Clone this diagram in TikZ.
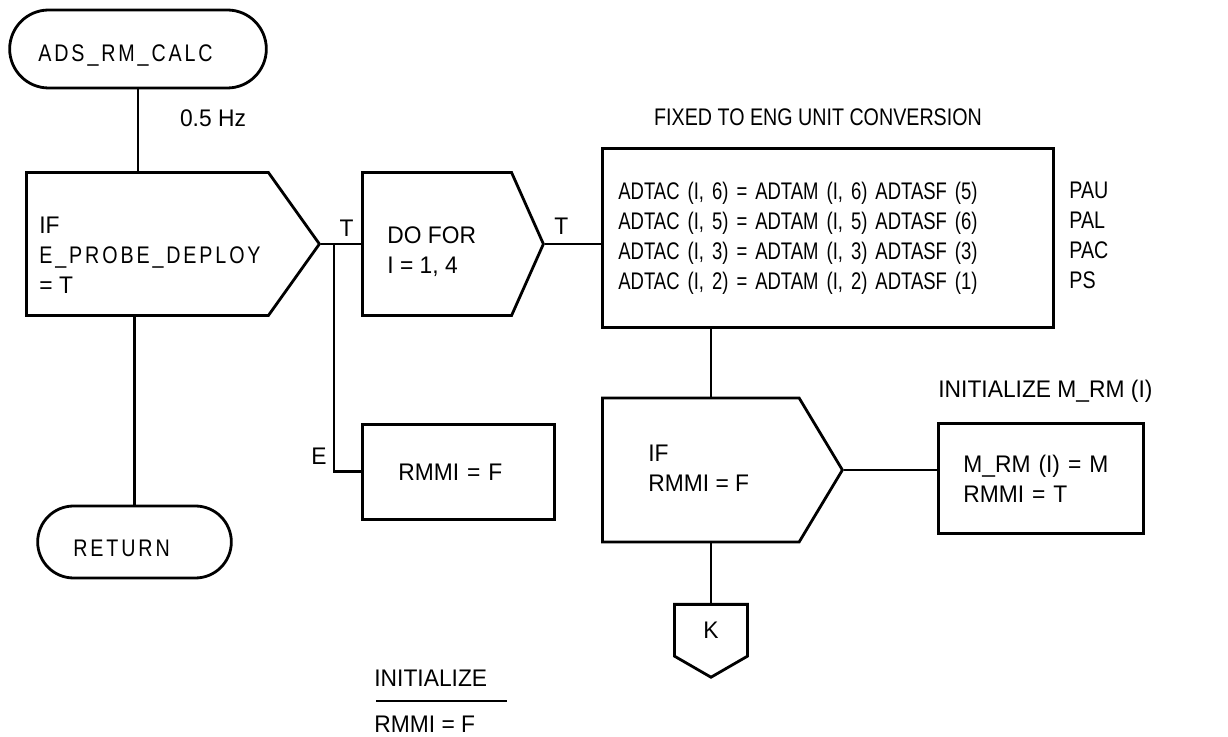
\documentclass[tikz,border=0pt]{standalone}
\usepackage{fontspec}
\setmainfont{Liberation Sans}[FakeStretch=0.95]
\newfontfamily\narrowfont{Liberation Sans}[FakeStretch=0.82]
\newfontfamily\eqfont{Liberation Sans}[FakeStretch=0.77,WordSpace=0.5]
\newfontfamily\spacedfont{Liberation Sans}[FakeStretch=0.82,LetterSpace=12]
\usetikzlibrary{shapes.misc,shapes.symbols}

\begin{document}
\begin{tikzpicture}[x=0.5pt, y=-0.5pt, line width=1.4pt,
    every node/.style={font=\fontsize{12}{15}\selectfont},
    term/.style={draw, rounded rectangle},
    box/.style={draw, rectangle, anchor=north west, align=left},
    dec/.style={draw, signal, signal to=east, anchor=west, minimum height=71.5pt},
    lbl/.style={anchor=west, align=left, inner sep=0pt}]
        \useasboundingbox (0,0) rectangle (1228,737);

        % terminals
        \node[term, minimum width=135pt, minimum height=39pt] (start) at (138,49) {};
        \node[lbl] (startlbl) at (37,56) {\spacedfont ADS\_RM\_CALC};
        \node[term, minimum width=103.5pt, minimum height=36pt] (ret) at (134.5,542) {};
        \node[lbl] (retlbl) at (72,548) {\spacedfont RETURN};

        % decisions
        \node[dec, minimum width=146.5pt, signal pointer angle=109] (ifprobe) at (25,244) {};
        \node[lbl] (ifprobelbl) at (38,255) {IF\\{\spacedfont E\_PROBE\_DEPLOY}\\= T};
        \node[dec, minimum width=90.5pt, signal pointer angle=132] (dofor) at (361,244) {};
        \node[lbl] (doforlbl) at (386,252) {DO FOR\\I = 1, 4};
        \node[dec, minimum width=120pt, minimum height=72pt, signal pointer angle=118] (ifrmmi) at (601,470) {};
        \node[lbl] (ifrmmilbl) at (647,468) {IF\\RMMI = F};

        % process boxes
        \node[box, minimum height=89.5pt, text width=209.5pt, inner xsep=8pt, font=\fontsize{12}{15}\eqfont] (conv) at (601,147)
            {ADTAC (I, 6) = ADTAM (I, 6) ADTASF (5)\\ADTAC (I, 5) = ADTAM (I, 5) ADTASF (6)\\ADTAC (I, 3) = ADTAM (I, 3) ADTASF (3)\\ADTAC (I, 2) = ADTAM (I, 2) ADTASF (1)};
        \node[lbl, font=\fontsize{12}{15}\narrowfont] (tags) at (1068,235) {PAU\\PAL\\PAC\\PS};
        \node[anchor=center, font=\fontsize{12}{15}\narrowfont] (convttl) at (818,117) {FIXED TO ENG UNIT CONVERSION};
        \node[box, minimum height=47.5pt, text width=60pt, inner xsep=18pt] (rmmi) at (361,423) {RMMI = F};
        \node[box, minimum height=55pt, text width=77.5pt, inner xsep=12.5pt] (mrm) at (937,422) {M\_RM (I) = M\\RMMI = T};
        \node[lbl] (mrmttl) at (937,391) {INITIALIZE M\_RM (I)};

        % off-page connector
        \node[draw, signal, signal to=south, signal pointer angle=120, anchor=north,
              minimum width=36.5pt, minimum height=30pt] (k) at (711,603) {K\hspace{12pt}};

        \node[anchor=center] (hz) at (213,118) {0.5 Hz};

        % connectors
        \coordinate (br) at (334,244);
        \draw (start.south) -- (start.south |- ifprobe.north);
        \draw (ret.north |- ifprobe.south) -- (ret.north);
        \draw (ifprobe.east) -- (dofor.west) node[anchor=south east, inner sep=3pt] (tlbl) {T};
        \draw (br) |- (rmmi.west) node[pos=0.5, anchor=south east, inner sep=3pt] (elbl) {E};
        \draw (dofor.east) -- (dofor.east -| conv.west) node[at start, anchor=south west, inner sep=4pt] (tlbl2) {T};
        \draw (k.north |- conv.south) -- (k.north |- ifrmmi.north);
        \draw (k.north |- ifrmmi.south) -- (k.north);
        \draw (ifrmmi.east) -- (ifrmmi.east -| mrm.west);

        % initial value
        \node[lbl] (initlbl) at (373,678) {INITIALIZE};
        \node[lbl] (initval) at (373,724) {RMMI = F};
        \draw (376,701) -- (507,701);
    \end{tikzpicture}
\end{document}
